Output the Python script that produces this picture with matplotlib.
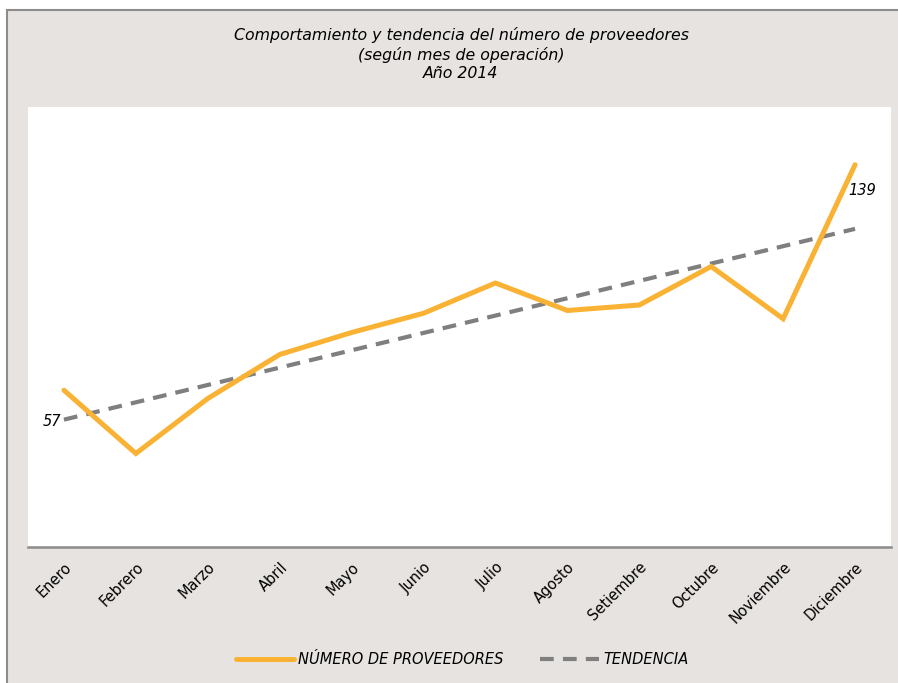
import numpy as np
import matplotlib.pyplot as plt
from matplotlib.patches import Rectangle

# Proveedores por mes de operación, año 2014
meses = ["Enero", "Febrero", "Marzo", "Abril", "Mayo", "Junio", "Julio",
         "Agosto", "Setiembre", "Octubre", "Noviembre", "Diciembre"]
proveedores = [57, 34, 54, 70, 78, 85, 96, 86, 88, 102, 83, 139]

naranja = "#F9B233"
gris = "#7F7F7F"
fondo = "#E7E3E0"

x = np.arange(len(meses))
# tendencia lineal (mínimos cuadrados)
m, b = np.polyfit(x, proveedores, 1)
tendencia = m * x + b

fig = plt.figure(figsize=(8.98, 6.83), dpi=100, facecolor="white")
plt.rcParams["font.family"] = ["DejaVu Sans"]

# marco del gráfico
fig.patches.append(Rectangle((7 / 898, -0.05), 1.0, 1 - 10 / 683 + 0.05,
                             transform=fig.transFigure, facecolor=fondo,
                             edgecolor="#8C8C8C", linewidth=1.5, zorder=-1))

ax = fig.add_axes([28 / 898, 1 - 547 / 683, (891 - 28) / 898, (547 - 107) / 683])
ax.set_facecolor("white")

ax.plot(x, proveedores, color=naranja, linewidth=3.6, solid_capstyle="round",
        solid_joinstyle="miter", label="NÚMERO DE PROVEEDORES", zorder=3)
ax.plot(x, tendencia, color=gris, linewidth=3, dashes=(3.3, 2.2),
        label="TENDENCIA", zorder=2)

ax.set_xlim(-0.5, len(meses) - 0.5)
ax.set_ylim(0, 160)
ax.set_yticks([])
ax.set_xticks(x)
ax.set_xticklabels(meses, rotation=45, ha="right", rotation_mode="anchor",
                   fontsize=10.5)
ax.tick_params(axis="x", length=0, pad=9)
for lado in ["top", "left", "right"]:
    ax.spines[lado].set_visible(False)
ax.spines["bottom"].set_color("#8C8C8C")
ax.spines["bottom"].set_linewidth(1.8)

# etiquetas de primer y último valor
ax.annotate(str(proveedores[0]), (x[0], proveedores[0]), xytext=(-12, -31),
            textcoords="offset pixels", ha="center", va="center",
            fontsize=10.5, style="italic")
ax.annotate(str(proveedores[-1]), (x[-1], proveedores[-1]), xytext=(7, -26),
            textcoords="offset pixels", ha="center", va="center",
            fontsize=10.5, style="italic")

fig.text(461 / 898, 1 - 54 / 683,
         "Comportamiento y tendencia del número de proveedores\n"
         "(según mes de operación)\nAño 2014",
         ha="center", va="center", fontsize=11.3, style="italic",
         linespacing=1.27)

fig.legend(loc="center", bbox_to_anchor=(462 / 898, 1 - 660 / 683), ncol=2,
           frameon=False, prop={"size": 10.5, "style": "italic"},
           handlelength=4.0, columnspacing=2.5, handletextpad=0.3)

fig.savefig("out.png", dpi=100, facecolor=fig.get_facecolor())
